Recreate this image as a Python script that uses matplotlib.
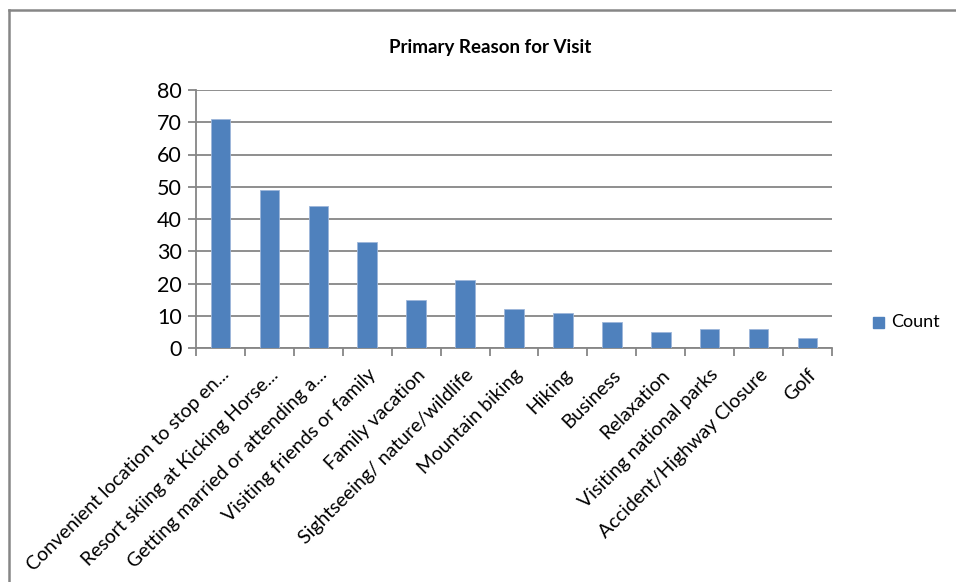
import matplotlib
matplotlib.use("Agg")
import matplotlib.pyplot as plt
from matplotlib.patches import Rectangle
from matplotlib.lines import Line2D
import matplotlib.transforms as mtransforms
import numpy as np

categories = [
    "Convenient location to stop en...",
    "Resort skiing at Kicking Horse...",
    "Getting married or attending a...",
    "Visiting friends or family",
    "Family vacation",
    "Sightseeing/ nature/wildlife",
    "Mountain biking",
    "Hiking",
    "Business",
    "Relaxation",
    "Visiting national parks",
    "Accident/Highway Closure",
    "Golf",
]
counts = [71, 49, 44, 33, 15, 21, 12, 11, 8, 5, 6, 6, 3]
yticks = [0, 10, 20, 30, 40, 50, 60, 70, 80]
series_name = "Count"
title = "Primary Reason for Visit"

plt.rcParams['font.family'] = ['Lato', 'DejaVu Sans']

W, H = 956, 582
fig = plt.figure(figsize=(W / 100, H / 100), dpi=100)
fig.patch.set_facecolor("white")

# outer chart border (top and left visible)
fig.add_artist(Line2D([9 / W, 9 / W], [0, 1 - 10 / H], transform=fig.transFigure,
                      color="#868686", lw=1.8))
fig.add_artist(Line2D([9 / W, 1], [1 - 10 / H, 1 - 10 / H], transform=fig.transFigure,
                      color="#868686", lw=1.8))

ax = fig.add_axes([196 / W, 1 - 348 / H, (832 - 196) / W, (348 - 90) / H])
x = np.arange(len(categories))
ax.bar(x, counts, width=0.4, color="#4F81BD", edgecolor="#9DB6DA", linewidth=0.6, zorder=3)

ax.set_xlim(-0.5, len(categories) - 0.5)
ax.set_ylim(0, 80)
ax.set_yticks(yticks)
ax.set_yticklabels([str(v) for v in yticks], fontsize=15.5)
ax.yaxis.grid(True, color="#868686", lw=1.3, zorder=0)
ax.set_axisbelow(True)

for s in ["top", "right"]:
    ax.spines[s].set_visible(False)
for s in ["left", "bottom"]:
    ax.spines[s].set_color("#868686")
    ax.spines[s].set_linewidth(1.3)

ax.tick_params(axis="y", length=6, width=1.3, color="#868686", pad=4)
ax.set_xticks(x)
ax.set_xticklabels(categories, rotation=45, ha="right", va="top",
                   rotation_mode="anchor", fontsize=14)
ax.tick_params(axis="x", which="major", length=0, pad=13)
offset = mtransforms.ScaledTranslation(0 / 100, 0, fig.dpi_scale_trans)
for lbl in ax.get_xticklabels():
    lbl.set_transform(lbl.get_transform() + offset)
ax.set_xticks(np.arange(len(categories) + 1) - 0.5, minor=True)
ax.tick_params(axis="x", which="minor", length=6, width=1.3, color="#868686")

fig.text(490 / W, 1 - 47 / H, title, ha="center", va="center",
         fontsize=13.5, fontweight="bold")

# legend
fig.add_artist(Rectangle((873 / W, 1 - 328 / H), 11 / W, 11 / H,
                         transform=fig.transFigure, color="#4F81BD"))
fig.text(891 / W, 1 - 322 / H, series_name, ha="left", va="center", fontsize=13)

fig.savefig("out.png", dpi=100, facecolor="white")
